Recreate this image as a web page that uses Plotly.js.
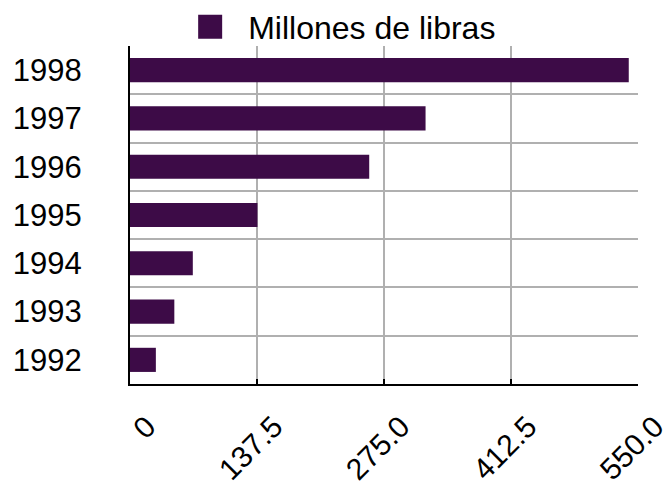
<!DOCTYPE html>
<html>
<head>
<meta charset="utf-8">
<script src="https://cdn.plot.ly/plotly-3.0.1.min.js"></script>
<style>
html,body{margin:0;padding:0;background:#fff;}
#chart{width:664px;height:486px;}
</style>
</head>
<body>
<div id="chart"></div>
<script>
const years = ['1992','1993','1994','1995','1996','1997','1998'];
const values = [28, 48, 68, 138, 259, 320, 540];
const xTickVals = [0, 137.5, 275, 412.5, 550];
const xTickText = ['0', '137.5', '275.0', '412.5', '550.0'];
const seriesName = 'Millones de libras';

const trace = {
  type: 'bar',
  orientation: 'h',
  y: years,
  x: values,
  name: seriesName,
  marker: {color: '#3d0b47', line: {width: 0}},
  showlegend: true,
  hoverinfo: 'x+y'
};

const layout = {
  width: 664,
  height: 486,
  margin: {l: 130, r: 26, t: 46, b: 102, autoexpand: false},
  paper_bgcolor: '#ffffff',
  plot_bgcolor: '#ffffff',
  font: {family: '"Liberation Sans", Arial, Helvetica, sans-serif', size: 28, color: '#000'},
  bargap: 0.5,
  showlegend: true,
  legend: {
    orientation: 'h',
    x: 0.083, xanchor: 'left',
    y: 1.056, yanchor: 'middle',
    itemwidth: 66,
    font: {size: 32, color: '#000'},
    bgcolor: 'rgba(0,0,0,0)',
    borderwidth: 0
  },
  xaxis: {
    range: [0, 550],
    tickvals: xTickVals,
    ticktext: xTickText,
    tickangle: -45,
    ticks: 'inside',
    ticklen: 5,
    tickwidth: 2,
    tickcolor: '#000',
    showline: true,
    linecolor: '#000',
    linewidth: 2,
    showgrid: true,
    gridcolor: '#b0b0b0',
    gridwidth: 2,
    zeroline: false,
    ticklabelshift: 17,
    ticklabelstandoff: 11,
    ticklabeloverflow: 'allow',
    tickfont: {size: 30},
    fixedrange: true
  },
  yaxis: {
    type: 'category',
    categoryorder: 'array',
    categoryarray: years,
    tickson: 'boundaries',
    ticks: '',
    showline: true,
    linecolor: '#000',
    linewidth: 2,
    showgrid: true,
    gridcolor: '#b0b0b0',
    gridwidth: 2,
    zeroline: false,
    ticklabelstandoff: 40,
    tickfont: {size: 31},
    fixedrange: true
  }
};

Plotly.newPlot('chart', [trace], layout, {displayModeBar: false, staticPlot: true}).then(function (gd) {
  gd.querySelectorAll('.legendpoints path').forEach(function (p) {
    const t = p.getAttribute('transform') || '';
    p.setAttribute('transform', t + ' scale(2)');
  });
});
</script>
</body>
</html>
